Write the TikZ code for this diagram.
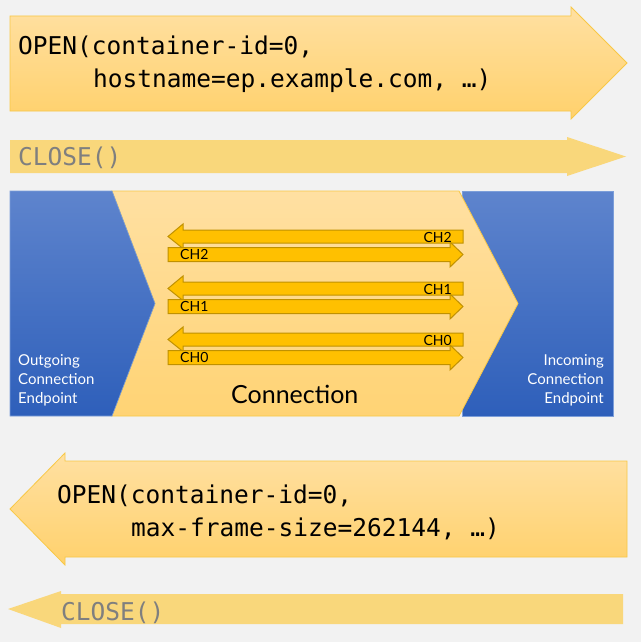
\documentclass[tikz,border=0pt]{standalone}
\usepackage{fontspec}
\setmainfont{Lato}
\newfontfamily\monof{DejaVu Sans Mono}
\definecolor{bg}{HTML}{F2F2F2}
\definecolor{ytop}{HTML}{FFE0A2}
\definecolor{ybot}{HTML}{FFD16C}
\definecolor{yedge}{HTML}{F8C846}
\definecolor{cfill}{HTML}{F9D77B}
\definecolor{ctext}{HTML}{7F7F7F}
\definecolor{btop}{HTML}{5E84CD}
\definecolor{bbot}{HTML}{2E5FBA}
\definecolor{bedge}{HTML}{7C9ED9}
\definecolor{chfill}{HTML}{FFC000}
\definecolor{chedge}{HTML}{C09100}
\begin{document}
\begin{tikzpicture}[x=1pt,y=-1pt,
  bigarrow/.style={top color=ytop,bottom color=ybot,draw=yedge,line width=0.8pt},
  closearrow/.style={fill=cfill},
  bluebox/.style={top color=btop,bottom color=bbot,draw=bedge,line width=0.6pt},
  conn/.style={top color=ytop,bottom color=ybot!85!ytop,draw=yedge,line width=0.8pt},
  charrow/.style={fill=chfill,draw=chedge,line width=1pt},
  monotxt/.style={font=\monof\fontsize{24.5}{28}\selectfont,inner sep=0pt},
  closetxt/.style={font=\monof\fontsize{24.5}{28}\selectfont,text=ctext,inner sep=0pt},
  eptxt/.style={font=\fontsize{15}{18}\selectfont,text=white,inner sep=0pt},
  chtxt/.style={font=\fontsize{14}{16}\selectfont,inner sep=0pt},
  conntxt/.style={font=\fontsize{25}{28}\selectfont,inner sep=0pt}]
\fill[bg] (0,0) rectangle (641,642);
\useasboundingbox (0,0) rectangle (641,642);

% top OPEN arrow
\path[bigarrow] (10,16) -- (571,16) -- (571,7) -- (627,63) -- (571,119) -- (571,111) -- (10,111) -- cycle;
\node[monotxt,anchor=base west] (open1a) at (18,55) {OPEN(container-id=0,};
\node[monotxt,anchor=base west] (open1b) at (93,88) {hostname=ep.example.com, …)};

% top CLOSE arrow
\fill[closearrow] (10,140) -- (567,140) -- (567,137) -- (626,156.5) -- (567,176) -- (567,173) -- (10,173) -- cycle;
\node[closetxt,anchor=base west] (close1) at (18,165) {CLOSE()};

% endpoints and connection
\path[bluebox] (462,191) rectangle (613,416);
\path[conn] (112,191) -- (459,191) -- (518,303.5) -- (459,416) -- (112,416) -- (155,303.5) -- cycle;
\path[bluebox] (10,191) -- (112,191) -- (155,303.5) -- (112,416) -- (10,416) -- cycle;

\node[eptxt,anchor=base west] (out1) at (18,365) {Outgoing};
\node[eptxt,anchor=base west] (out2) at (18,384) {Connection};
\node[eptxt,anchor=base west] (out3) at (18,403) {Endpoint};
\node[eptxt,anchor=base east] (in1) at (604,365) {Incoming};
\node[eptxt,anchor=base east] (in2) at (604,384) {Connection};
\node[eptxt,anchor=base east] (in3) at (604,403) {Endpoint};
\node[conntxt,anchor=base west] (connlbl) at (231,403) {Connection};

% channels
\foreach \dy/\lbl in {0/CH2,52/CH1,103/CH0}{
  \begin{scope}[yshift=-\dy pt]
    \path[charrow] (183,230) -- (463,230) -- (463,243) -- (183,243) -- (183,248.5) -- (168,236.5) -- (183,224) -- cycle;
    \path[charrow] (168,247.5) -- (450,247.5) -- (450,242) -- (463,254.5) -- (450,267) -- (450,261.5) -- (168,261.5) -- cycle;
    \node[chtxt,anchor=base east] (l\lbl) at (452,242) {\lbl};
    \node[chtxt,anchor=base west] (r\lbl) at (180,259) {\lbl};
  \end{scope}
}

% bottom OPEN arrow
\path[bigarrow] (65,461) -- (627,461) -- (627,557) -- (65,557) -- (65,565) -- (10,509) -- (65,453) -- cycle;
\node[monotxt,anchor=base west] (open2a) at (57,503) {OPEN(container-id=0,};
\node[monotxt,anchor=base west] (open2b) at (131,536) {max-frame-size=262144, …)};

% bottom CLOSE arrow
\fill[closearrow] (61,594) -- (623,594) -- (623,624) -- (61,624) -- (61,628) -- (8,609) -- (61,591) -- cycle;
\node[closetxt,anchor=base west] (close2) at (61,620) {CLOSE()};
\end{tikzpicture}
\end{document}
